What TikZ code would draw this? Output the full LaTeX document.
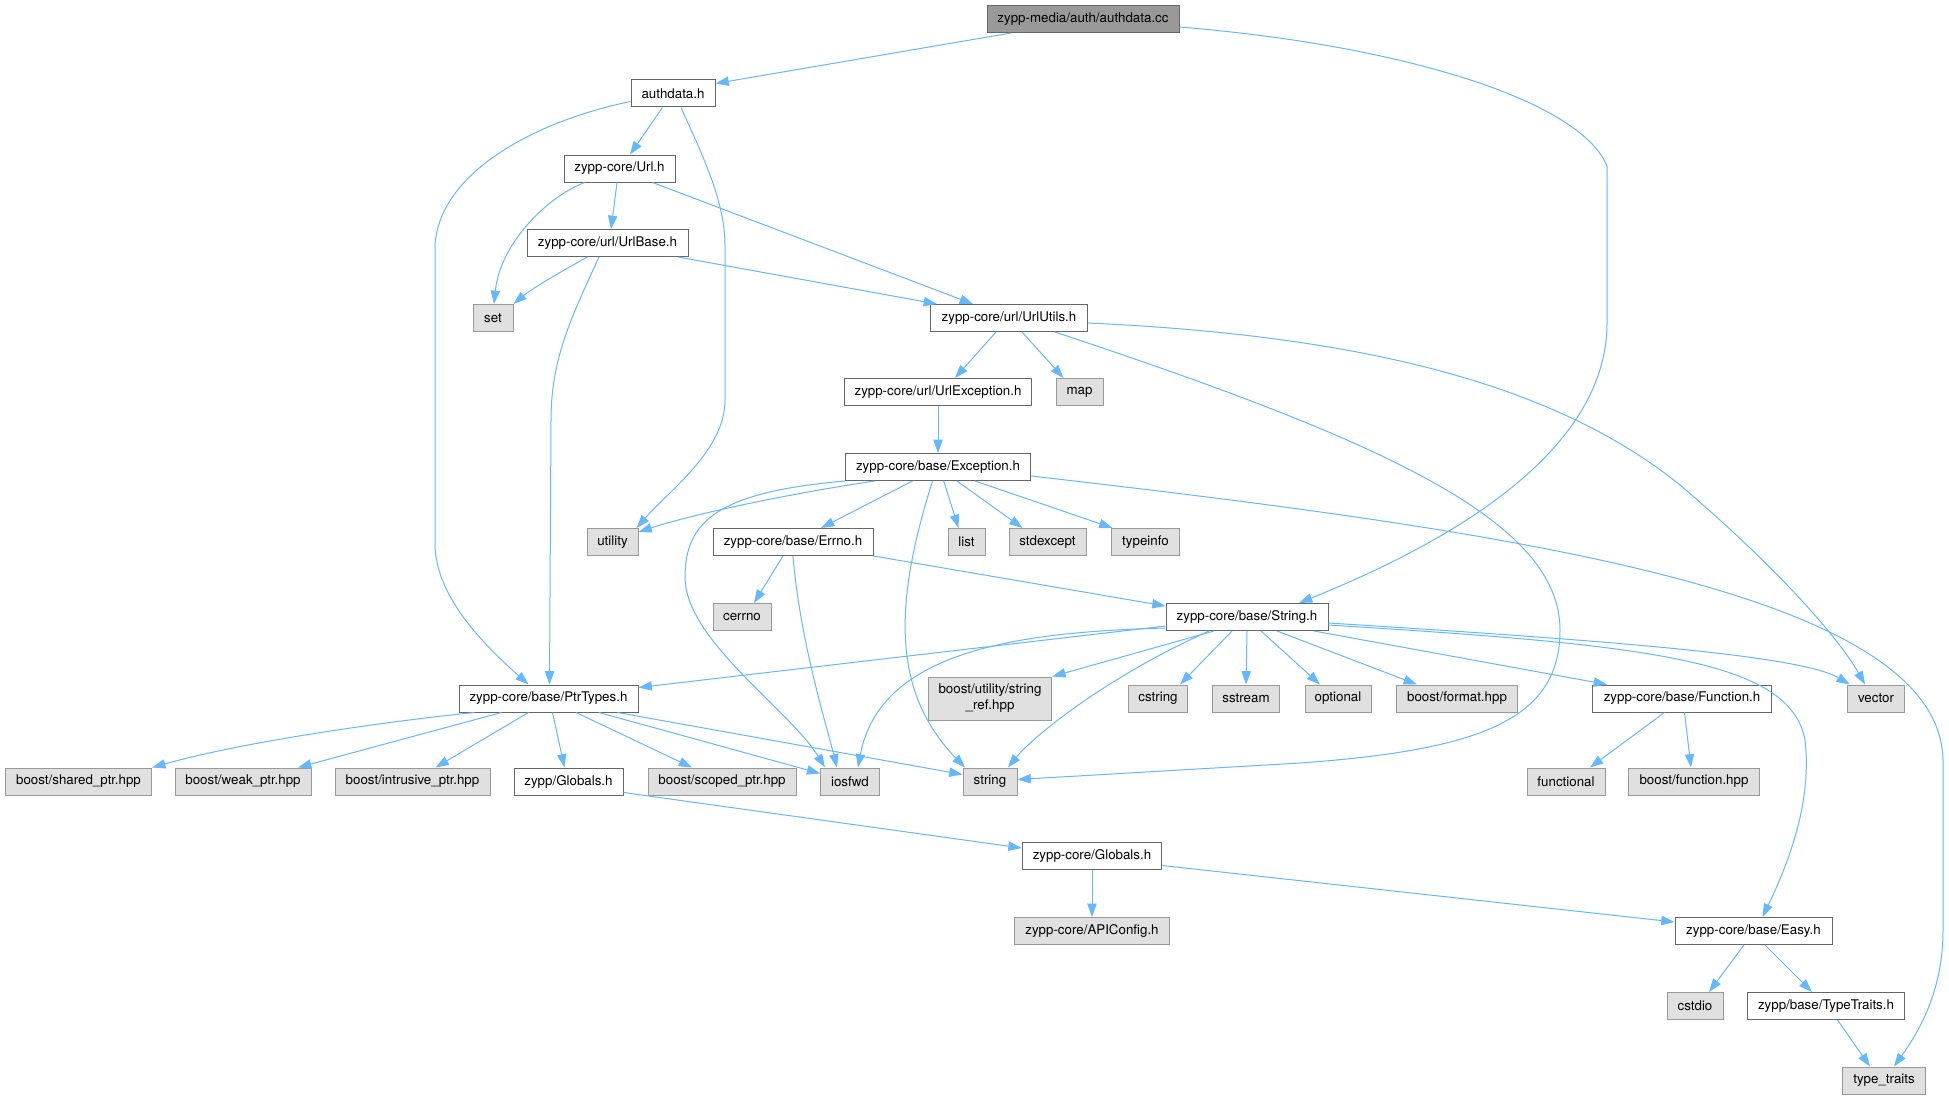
\documentclass[tikz,border=0pt]{standalone}
\usepackage{fontspec}
\setmainfont{TeX Gyre Heros}
\usetikzlibrary{calc,arrows.meta}
\definecolor{edgec}{HTML}{63B8FF}
\definecolor{grayfill}{HTML}{E0E0E0}
\definecolor{grayline}{HTML}{999999}
\definecolor{darkline}{HTML}{666666}
\definecolor{rootfill}{HTML}{999999}
\begin{document}
\begin{tikzpicture}[x=0.75pt,y=-0.75pt,
  box/.style={draw=darkline, fill=white, line width=0.75pt, inner sep=0pt, minimum height=20.25pt, font=\fontsize{10}{12}\selectfont, text=black},
  sysbox/.style={box, draw=grayline, fill=grayfill},
  rootbox/.style={box, fill=rootfill},
  e/.style={draw=edgec, line width=0.75pt, -{Triangle[length=10pt,width=7pt]}}]
\fill[white] (0,0) rectangle (1949,1099);
\useasboundingbox (0,0) rectangle (1949,1099);

% nodes
\node[rootbox, minimum width=144pt] (cc) at (1083,19) {zypp-media/auth/authdata.cc};
\node[box, minimum width=63pt] (authh) at (673,93.5) {authdata.h};
\node[box, minimum width=83.25pt] (url) at (619.5,168.5) {zypp-core/Url.h};
\node[box, minimum width=120.75pt] (urlbase) at (607.5,243) {zypp-core/url/UrlBase.h};
\node[sysbox, minimum width=30pt] (set) at (493,318) {set};
\node[box, minimum width=117.4pt] (urlutils) at (1009,318) {zypp-core/url/UrlUtils.h};
\node[box, minimum width=140.5pt] (urlexc) at (938,392) {zypp-core/url/UrlException.h};
\node[sysbox, minimum width=35.25pt] (map) at (1079.5,392) {map};
\node[box, minimum width=139pt] (exc) at (938,467) {zypp-core/base/Exception.h};
\node[sysbox, minimum width=38.25pt] (utility) at (612.5,542) {utility};
\node[box, minimum width=120pt] (errno) at (793,542) {zypp-core/base/Errno.h};
\node[sysbox, minimum width=27.75pt] (list) at (966.5,542) {list};
\node[sysbox, minimum width=57.75pt] (stdexc) at (1047.5,542) {stdexcept};
\node[sysbox, minimum width=51pt] (typeinfo) at (1145.5,542) {typeinfo};
\node[sysbox, minimum width=43.5pt] (cerrno) at (742,617) {cerrno};
\node[box, minimum width=121.5pt] (strh) at (1247,617) {zypp-core/base/String.h};
\node[box, minimum width=134.25pt] (ptr) at (548.5,698.5) {zypp-core/base/PtrTypes.h};
\node[sysbox, minimum width=92.6pt, minimum height=32.25pt, align=center] (sref) at (990,698.5) {boost/utility/string\\\_ref.hpp};
\node[sysbox, minimum width=44.6pt] (cstring) at (1158,698.5) {cstring};
\node[sysbox, minimum width=50.6pt] (sstream) at (1246,698.5) {sstream};
\node[sysbox, minimum width=49.5pt] (optional) at (1338,698.5) {optional};
\node[sysbox, minimum width=90.6pt] (bformat) at (1457,698.5) {boost/format.hpp};
\node[box, minimum width=134pt] (func) at (1682,698.5) {zypp-core/base/Function.h};
\node[sysbox, minimum width=43.1pt] (vector) at (1876,698.5) {vector};
\node[sysbox, minimum width=109.7pt] (shared) at (78.5,781.5) {boost/shared\_ptr.hpp};
\node[sysbox, minimum width=102pt] (weak) at (243,781.5) {boost/weak\_ptr.hpp};
\node[sysbox, minimum width=116.25pt] (intrusive) at (412.5,781.5) {boost/intrusive\_ptr.hpp};
\node[box, minimum width=81.75pt] (zglob) at (568.5,781.5) {zypp/Globals.h};
\node[sysbox, minimum width=111pt] (scoped) at (722,781.5) {boost/scoped\_ptr.hpp};
\node[sysbox, minimum width=43.9pt] (iosfwd) at (850,781.5) {iosfwd};
\node[sysbox, minimum width=40.5pt] (string) at (990,781.5) {string};
\node[sysbox, minimum width=58.5pt] (functional) at (1566,781.5) {functional};
\node[sysbox, minimum width=97.9pt] (bfunc) at (1694,781.5) {boost/function.hpp};
\node[box, minimum width=104.7pt] (cglob) at (1092,856) {zypp-core/Globals.h};
\node[sysbox, minimum width=116.7pt] (api) at (1092,931) {zypp-core/APIConfig.h};
\node[box, minimum width=117.75pt] (easy) at (1753.5,931) {zypp-core/base/Easy.h};
\node[sysbox, minimum width=42pt] (cstdio) at (1695,1006) {cstdio};
\node[box, minimum width=118.1pt] (ttraits) at (1826,1006) {zypp/base/TypeTraits.h};
\node[sysbox, minimum width=62.2pt] (typetr) at (1884,1080.5) {type\_traits};

% edges
\draw[e] ($(cc.south)+(-72,0)$) -- ($(authh.east)+(0,-10)$);
\draw[e] ($(cc.east)+(0,8)$) .. controls (1400,45) and (1580,100) .. (1607,166) -- (1607,323) .. controls (1607,460) and (1430,550) .. ($(strh.north)+(52,0)$);
\draw[e] ($(authh.west)+(0,8)$) .. controls (540,120) and (440,170) .. (435,245) -- (435,545) .. controls (436,600) and (490,650) .. ($(ptr.north)+(-20,0)$);
\draw[e] ($(authh.south)+(-10.5,0)$) -- ($(url.north)+(10.5,0)$);
\draw[e] ($(authh.south)+(8,0)$) .. controls (700,150) and (725,200) .. (725,245) -- (725,400) .. controls (725,450) and (670,490) .. ($(utility.north east)+(-2,0)$);
\draw[e] ($(url.south)+(-35,0)$) .. controls (545,198) and (500,245) .. ($(set.north)+(1,0)$);
\draw[e] ($(url.south)+(-2.5,0)$) -- ($(urlbase.north)+(3.5,0)$);
\draw[e] ($(url.south)+(33,0)$) -- ($(urlutils.north)+(-36,0)$);
\draw[e] ($(urlbase.south)+(-20,0)$) .. controls (560,272) and (530,290) .. (set.north east);
\draw[e] ($(urlbase.south)+(70.5,0)$) -- ($(urlutils.north)+(-72,0)$);
\draw[e] ($(urlbase.south)+(-8.5,0)$) .. controls (570,320) and (551,360) .. (551,420) -- ($(ptr.north)+(1,0)$);
\draw[e] ($(urlutils.south)+(-13,0)$) -- ($(urlexc.north)+(17,0)$);
\draw[e] ($(urlutils.south)+(13,0)$) -- ($(map.north)+(-16,0)$);
\draw[e] ($(urlutils.south)+(46,0)$) .. controls (1380,440) and (1560,520) .. (1560,630) .. controls (1560,720) and (1480,750) .. (1300,763) -- ($(string.east)+(0,-2)$);
\draw[e] ($(urlutils.east)+(0,5)$) .. controls (1350,335) and (1550,380) .. (1680,485) .. controls (1780,570) and (1840,640) .. ($(vector.north)+(-11,0)$);
\draw[e] (urlexc) -- (exc);
\draw[e] ($(exc.south)+(-63.5,0)$) .. controls (800,492) and (700,512) .. ($(utility.east)+(0,-10)$);
\draw[e] ($(exc.south)+(-25.5,0)$) -- ($(errno.north)+(28,0)$);
\draw[e] (exc.south west) .. controls (720,492) and (685,520) .. (685,577) .. controls (685,640) and (790,710) .. ($(iosfwd.north)+(-25,0)$);
\draw[e] ($(exc.south)+(-5.5,0)$) .. controls (895,600) and (890,690) .. ($(string.north)+(-25,0)$);
\draw[e] ($(exc.south)+(5.7,0)$) -- ($(list.north)+(-8,0)$);
\draw[e] ($(exc.south)+(19,0)$) -- ($(stdexc.north)+(-25,0)$);
\draw[e] ($(exc.south)+(37,0)$) -- ($(typeinfo.north)+(-33,0)$);
\draw[e] ($(exc.east)+(0,9)$) .. controls (1500,530) and (1940,590) .. (1943,760) -- (1943,930) .. controls (1943,990) and (1920,1030) .. ($(typetr.north)+(10,0)$);
\draw[e] ($(errno.south)+(-10,0)$) -- ($(cerrno.north)+(12,0)$);
\draw[e] (errno.south) .. controls (800,640) and (825,720) .. ($(iosfwd.north)+(-13,0)$);
\draw[e] (errno.south east) -- ($(strh.north west)+(0,3)$);
\draw[e] ($(strh.west)+(0,9)$) -- ($(ptr.north east)+(0,3)$);
\draw[e] ($(strh.south west)+(0,-3)$) .. controls (1020,632) and (880,650) .. ($(iosfwd.north)+(8,0)$);
\draw[e] ($(strh.south)+(-33,0)$) -- (sref.north east);
\draw[e] ($(strh.south)+(-38,0)$) .. controls (1100,680) and (1030,740) .. ($(string.north)+(18,0)$);
\draw[e] ($(strh.south)+(-15,0)$) -- ($(cstring.north)+(22,0)$);
\draw[e] (strh.south) -- (sstream.north);
\draw[e] ($(strh.south)+(14,0)$) -- ($(optional.north)+(-18,0)$);
\draw[e] ($(strh.south)+(30,0)$) -- ($(bformat.north)+(-40,0)$);
\draw[e] ($(strh.south)+(67,0)$) -- ($(func.north)+(-75,0)$);
\draw[e] ($(strh.east)+(0,6)$) .. controls (1600,640) and (1800,655) .. ($(vector.north west)+(3,0)$);
\draw[e] ($(strh.east)+(0,8)$) .. controls (1650,645) and (1790,660) .. (1805,740) .. controls (1812,800) and (1790,860) .. ($(easy.north)+(9,0)$);
\draw[e] ($(ptr.south)+(-74,0)$) .. controls (400,720) and (250,740) .. (shared.north east);
\draw[e] ($(ptr.south)+(-47,0)$) -- ($(weak.north)+(55,0)$);
\draw[e] ($(ptr.south)+(-20,0)$) -- ($(intrusive.north)+(23,0)$);
\draw[e] ($(ptr.south)+(4,0)$) -- ($(zglob.north)+(-4,0)$);
\draw[e] ($(ptr.south)+(27.5,0)$) -- ($(scoped.north)+(-30,0)$);
\draw[e] ($(ptr.south)+(50.5,0)$) -- ($(iosfwd.west)+(0,-8)$);
\draw[e] ($(ptr.south)+(69,0)$) -- ($(string.west)+(0,-7)$);
\draw[e] ($(zglob.east)+(0,11)$) -- ($(cglob.west)+(0,-8)$);
\draw[e] (cglob) -- (api);
\draw[e] ($(cglob.east)+(0,9.5)$) -- ($(easy.west)+(0,-9)$);
\draw[e] ($(func.south)+(-17.5,0)$) -- ($(functional.north)+(24,0)$);
\draw[e] ($(func.south)+(2.5,0)$) -- ($(bfunc.north)+(-3,0)$);
\draw[e] ($(easy.south)+(-9.5,0)$) -- ($(cstdio.north)+(14,0)$);
\draw[e] ($(easy.south)+(11.5,0)$) -- ($(ttraits.north)+(-14,0)$);
\draw[e] ($(ttraits.south)+(11.5,0)$) -- ($(typetr.north)+(-14,0)$);
\end{tikzpicture}
\end{document}
